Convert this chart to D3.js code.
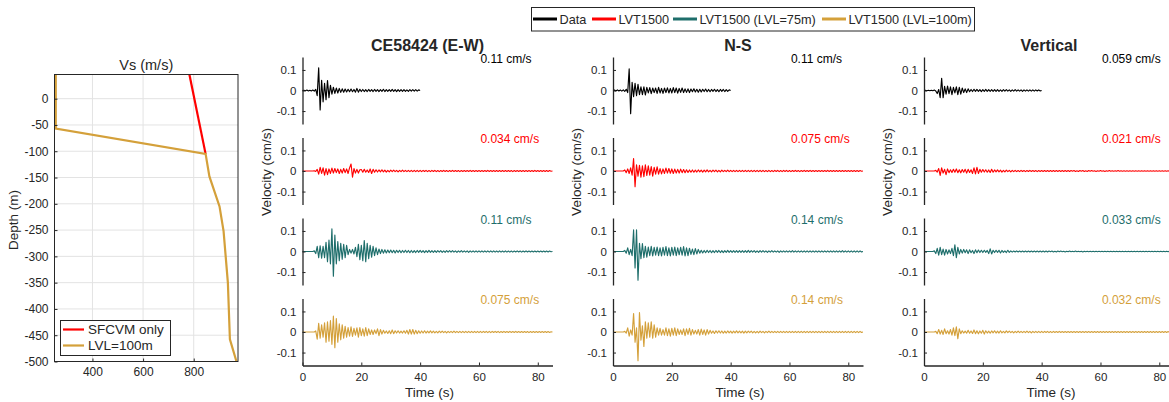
<!DOCTYPE html>
<html><head><meta charset="utf-8">
<script src="https://cdn.jsdelivr.net/npm/d3@7"></script>
<style>
body{margin:0;background:#fff;}
svg{display:block;font-family:"Liberation Sans",Arial,Helvetica,sans-serif;}
</style></head><body>
<svg id="chart" width="1169" height="402"></svg>
<script>
// ---------------- DATA ----------------
// Vs profile (left panel)
const sfcvmVs    = [783, 847];
const sfcvmDepth = [46, -105];
const lvlVs      = [255, 255, 847, 862, 902, 918, 935, 943, 969];
const lvlDepth   = [46, -57, -105, -148, -205, -252, -350, -458, -500];
const vsTicks    = [400, 600, 800];
const depthTicks = [-500,-450,-400,-350,-300,-250,-200,-150,-100,-50,0];

// Velocity time series, sampled every dt seconds, values in 0.001 cm/s
const dt = 0.5;
const timeTicks = [0, 20, 40, 60, 80];
const velTicks  = [-0.1, 0, 0.1];
const components = ["CE58424 (E-W)", "N-S", "Vertical"];
const seriesNames = ["Data", "LVT1500", "LVT1500 (LVL=75m)", "LVT1500 (LVL=100m)"];
const profileNames = ["SFCVM only", "LVL=100m"];
const peakEW = ["0.11 cm/s", "0.034 cm/s", "0.11 cm/s", "0.075 cm/s"];
const peakNS = ["0.11 cm/s", "0.075 cm/s", "0.14 cm/s", "0.14 cm/s"];
const peakV  = ["0.059 cm/s", "0.021 cm/s", "0.033 cm/s", "0.032 cm/s"];

const ewData = [0,1,-1,2,-2,1,-2,2,-3,5,
 -25,110,-95,50,-55,35,-45,48,-35,25,
 -18,16,-14,12,-12,10,-9,8,-8,7,
 -7,6,-6,7,-6,5,-8,10,-8,6,
 -5,5,-5,4,-5,5,-4,4,-5,5,
 -4,4,-5,4,-4,6,-5,4,-4,4,
 -4,5,-4,4,-5,4,-4,4,-4,4,
 -4,3,-4,4,-3,4,-3,4,-3,3,
 0];
const ewLVT = [0,0,0,0,0,0,0,0,1,-2,
 8,-15,18,-12,15,-20,12,-18,10,-12,
 14,-10,12,-8,10,-12,8,-10,12,-8,
 10,-12,15,34,-30,12,-10,8,-10,6,
 7,-6,8,-6,5,-7,10,-12,8,-6,
 6,-5,5,-4,6,-4,4,-5,3,-4,
 4,-3,4,-3,3,-4,3,-3,4,-3,
 3,-3,3,-3,3,-3,3,-3,3,-3,
 3,-3,3,-2,3,-3,2,-3,3,-2,
 3,-3,2,-3,2,-2,3,-2,2,-3,
 2,-2,3,-2,2,-2,2,-3,2,-2,
 2,-2,2,-2,3,-2,2,-2,2,-2,
 2,-2,2,-2,2,-2,3,-2,2,-2,
 2,-2,2,-2,2,-2,2,-2,2,-2,
 2,-2,2,-3,2,-2,2,-2,2,-2,
 2,-2,2,-2,2,-2,2,-2,3,-2,
 2,-2,2,-2,2,-2,2,-2,2,-1,
 0];
const ewLVT75 = [0,0,0,0,0,0,0,0,3,-10,
 25,-30,28,-32,25,-30,45,-50,55,-60,
 110,-120,80,-60,48,-45,40,-38,35,-30,
 30,-15,10,-8,10,-12,20,-25,35,-40,
 30,-45,53,-50,40,-35,30,-28,25,-20,
 18,-15,12,-10,10,-8,8,-7,7,-6,
 7,-6,6,-7,6,-5,6,-6,5,-5,
 6,-5,5,-6,5,-5,4,-5,5,-4,
 5,-4,4,-5,4,-4,5,-4,4,-4,
 4,-4,4,-3,4,-4,3,-4,4,-3,
 4,-3,4,-3,3,-4,3,-3,4,-3,
 3,-3,3,-4,3,-3,3,-3,3,-3,
 3,-3,3,-3,3,-3,3,-3,3,-3,
 3,-3,2,-3,3,-3,2,-3,3,-3,
 2,-3,2,-3,2,-2,3,-2,2,-3,
 2,-2,3,-2,2,-2,2,-2,2,-2,
 2,-2,2,-2,2,-2,2,-2,2,-1,
 0];
const ewLVT100 = [0,0,0,0,0,0,0,0,0,5,
 -35,42,-30,35,-25,45,-50,50,-45,55,
 -60,77,-76,65,-50,40,-38,35,-30,28,
 -25,22,-20,25,-22,18,-15,20,-25,22,
 -18,15,-20,22,-18,15,-12,10,-12,10,
 -8,15,-18,12,-10,8,-6,5,-7,6,
 -8,10,-8,6,-5,6,-5,4,-5,6,
 -6,8,-10,12,-10,12,-10,8,-8,6,
 -6,5,-5,6,-5,4,-4,5,-4,4,
 -4,3,-4,4,-3,4,-3,3,-4,3,
 -3,3,-3,4,-3,3,-3,3,-3,3,
 -3,3,-3,3,-3,3,-3,3,-3,3,
 -3,3,-3,3,-2,3,-3,3,-3,3,
 -2,3,-2,3,-3,2,-2,3,-2,2,
 -2,3,-2,2,-2,3,-2,2,-2,2,
 -2,2,-2,2,-3,2,-2,2,-2,2,
 -2,2,-2,2,-2,2,-2,2,-2,1,
 0];

const nsData = [0,2,-2,3,-2,2,-3,3,-4,6,
 -10,105,-113,40,-30,35,-25,30,-20,18,
 -20,18,-22,15,-12,14,-15,12,-10,12,
 -14,15,-12,10,-14,12,-10,13,-12,10,
 -12,14,-10,12,-13,10,-9,12,-10,8,
 -9,8,-10,7,-6,8,-7,6,-8,6,
 -7,6,-5,7,-6,5,-6,5,-4,6,
 -5,4,-6,5,-4,5,-5,4,-4,3,
 0];
const nsLVT = [0,0,0,0,0,0,0,0,5,-8,
 10,-12,15,-20,60,-76,30,-25,28,-30,
 25,-28,30,-22,25,-20,22,-25,18,-15,
 20,-15,12,-14,10,-12,14,-10,12,-11,
 10,-12,9,-10,8,-10,9,-8,7,-8,
 6,-7,5,-6,5,-6,4,-5,5,-4,
 4,-5,4,-4,5,-4,3,-4,4,-3,
 4,-4,3,-4,4,-3,3,-3,4,-3,
 3,-3,3,-3,3,-3,3,-3,3,-3,
 3,-3,3,-3,3,-3,3,-3,3,-3,
 3,-3,3,-3,2,-3,3,-3,2,-3,
 3,-2,3,-3,2,-3,3,-2,3,-3,
 2,-3,2,-2,3,-2,2,-3,2,-2,
 3,-2,2,-2,3,-2,2,-2,2,-2,
 2,-2,2,-2,2,-2,3,-2,2,-2,
 2,-2,2,-2,2,-2,2,-2,2,-2,
 2,-2,2,-2,2,-2,2,-2,2,-1,
 0];
const nsLVT75 = [0,0,0,0,0,0,0,0,5,-8,
 18,-15,10,-20,105,-80,105,-140,40,-35,
 38,-30,25,-28,22,-20,25,-22,20,-18,
 22,-20,18,-22,20,-18,24,-20,18,-22,
 20,-18,22,-20,18,-16,20,-18,24,-22,
 18,-20,16,-14,12,-15,14,-12,10,-8,
 6,-7,5,-6,6,-5,5,-6,4,-5,
 5,-4,5,-5,4,-5,4,-4,5,-4,
 4,-4,4,-4,4,-4,4,-4,4,-4,
 4,-4,5,-4,4,-3,4,-4,3,-4,
 4,-3,4,-3,3,-4,3,-3,4,-3,
 3,-3,3,-4,3,-3,3,-3,3,-3,
 3,-3,4,-3,3,-3,3,-3,3,-3,
 3,-3,3,-3,3,-3,3,-3,3,-3,
 3,-3,3,-3,3,-3,3,-3,3,-3,
 3,-3,3,-3,3,-3,4,-3,3,-3,
 3,-3,3,-3,3,-3,3,-3,3,-2,
 0];
const nsLVT100 = [0,0,0,0,0,0,0,0,3,-5,
 20,-20,10,-15,90,-50,20,-140,95,-40,
 30,-70,50,-30,45,-25,50,-30,35,-25,
 20,-15,18,-15,12,-15,20,-18,15,-20,
 18,-15,20,-18,15,-12,10,-12,15,-18,
 15,-12,18,-15,12,-10,8,-10,12,-15,
 14,-12,10,-15,12,-10,8,-6,5,-7,
 6,-5,6,-5,5,-6,4,-5,5,-4,
 4,-5,4,-4,5,-4,4,-4,4,-5,
 4,-4,4,-3,4,-4,3,-4,3,-4,
 4,-3,3,-4,3,-3,4,-3,3,-3,
 3,-3,3,-3,3,-3,3,-3,3,-3,
 3,-3,3,-3,3,-3,3,-3,3,-3,
 3,-3,3,-3,3,-3,3,-3,3,-3,
 3,-3,3,-3,3,-3,3,-3,3,-3,
 3,-3,3,-3,3,-3,3,-3,3,-3,
 3,-3,3,-3,3,-3,3,-3,3,-2,
 0];

const vData = [0,1,-1,1,-1,1,-1,2,-2,-15,
 5,-35,59,-35,20,-18,22,-15,18,-20,
 15,-12,18,-20,15,-18,12,-10,8,-10,
 8,-6,5,-5,6,-4,5,-4,4,-5,
 4,-4,5,-4,4,-4,4,-4,4,-4,
 4,-4,3,-4,4,-3,4,-3,3,-4,
 3,-3,4,-3,3,-3,3,-4,3,-3,
 3,-3,3,-3,3,-3,3,-2,3,-2,
 0];
const vLVT = [0,0,0,0,0,0,0,0,3,-5,
 12,-21,15,-10,8,-18,10,-8,6,-7,
 8,-6,10,-8,6,-9,7,-6,8,-10,
 8,-7,6,-12,15,-14,18,-12,8,-6,
 7,-5,6,-6,5,-7,8,-6,5,-4,
 5,-4,4,-5,3,-4,4,-3,3,-4,
 3,-3,3,-3,2,-3,3,-2,2,-3,
 2,-2,3,-2,2,-2,2,-3,2,-2,
 2,-2,2,-2,2,-2,2,-2,2,-2,
 2,-2,2,-2,2,-2,2,-2,2,-2,
 2,-1,2,-2,1,-2,2,-1,2,-2,
 1,-2,2,-1,2,-1,1,-2,1,-1,
 2,-1,1,-2,1,-1,2,-1,1,-1,
 1,-1,2,-1,1,-1,1,-1,1,-1,
 1,-1,1,-1,1,-1,1,-1,1,-1,
 1,-1,1,-1,1,-1,1,-1,1,-1,
 1,-1,1,-1,1,-1,1,-1,1,-1,
 0];
const vLVT75 = [0,0,0,0,0,0,0,3,-10,15,
 -18,20,-15,12,-18,10,-12,8,-10,15,
 -20,33,-30,20,-12,10,-8,10,-6,8,
 -10,8,-6,5,-10,8,-6,7,-5,6,
 -5,6,-4,5,-10,13,-12,6,-5,6,
 -4,6,-7,5,-4,3,-5,6,-4,3,
 -3,2,-2,3,-2,2,-2,2,-2,2,
 -2,2,-2,2,-2,2,-2,2,-2,2,
 -2,2,-2,2,-2,2,-1,2,-2,1,
 -2,2,-1,2,-1,1,-2,1,-1,2,
 -1,1,-1,2,-1,1,-1,1,-2,1,
 -1,1,-1,1,-1,1,-1,1,-1,1,
 -1,1,-1,1,-1,1,-1,1,-1,1,
 -1,1,-1,1,-1,1,-1,1,-1,1,
 -1,1,-1,1,-1,1,-1,1,-1,1,
 -1,1,-1,1,-1,1,-1,1,-1,1,
 -1,1,-1,1,-1,1,-1,1,-1,1,
 0];
const vLVT100 = [0,0,0,0,0,0,0,0,3,-8,
 12,-10,8,-12,15,-8,6,-10,12,-15,
 20,-18,25,-32,15,-8,6,-5,4,-6,
 8,-6,5,-7,10,-8,6,-9,5,-6,
 8,-10,6,-5,4,-6,5,-4,6,-5,
 4,-5,6,-4,3,-4,5,-3,4,-3,
 3,-4,3,-3,4,-3,3,-3,3,-3,
 4,-3,3,-4,3,-3,3,-3,3,-3,
 3,-3,3,-2,3,-3,2,-3,3,-2,
 2,-2,3,-2,2,-2,2,-2,2,-2,
 2,-2,2,-2,2,-2,2,-2,2,-2,
 2,-2,2,-2,2,-2,2,-2,2,-2,
 2,-2,2,-2,2,-2,2,-2,2,-2,
 2,-2,2,-2,2,-2,2,-2,2,-2,
 2,-2,2,-2,2,-2,2,-2,2,-2,
 2,-2,2,-2,2,-2,2,-2,2,-2,
 2,-2,2,-2,2,-2,2,-2,2,-1,
 0];

// ---------------- DRAW ----------------
const svg = d3.select("#chart");
const ink = "#262626";
const colors = ["#000000", "#ff0000", "#1e6e6b", "#d4a03a"];
const fmt = d => String(d);

// ---- Left: Vs profile ----
const L = {x0: 54.5, x1: 238, y0: 74.5, y1: 361.5};
const vx = d3.scaleLinear().domain([250, 975]).range([L.x0, L.x1]);
const vy = d3.scaleLinear().domain([-500, 46]).range([L.y1, L.y0]);
const gl = svg.append("g");
gl.append("g").selectAll("line").data(vsTicks).join("line")
  .attr("x1", d => vx(d)).attr("x2", d => vx(d)).attr("y1", L.y0).attr("y2", L.y1)
  .attr("stroke", "#e3e3e3").attr("stroke-width", 1);
gl.append("g").selectAll("line").data(depthTicks).join("line")
  .attr("x1", L.x0).attr("x2", L.x1).attr("y1", d => vy(d)).attr("y2", d => vy(d))
  .attr("stroke", "#e3e3e3").attr("stroke-width", 1);

const lineV = d3.line().x(d => vx(d[0])).y(d => vy(d[1]));
gl.append("path").datum(d3.zip(sfcvmVs, sfcvmDepth)).attr("d", lineV)
  .attr("fill", "none").attr("stroke", colors[1]).attr("stroke-width", 2.2);
gl.append("path").datum(d3.zip(lvlVs, lvlDepth)).attr("d", lineV)
  .attr("fill", "none").attr("stroke", colors[3]).attr("stroke-width", 2.2);

const ayL = gl.append("g").attr("transform", `translate(${L.x0},0)`)
  .call(d3.axisLeft(vy).tickValues(depthTicks).tickFormat(fmt).tickSizeInner(-3).tickSizeOuter(0).tickPadding(6));
const axL = gl.append("g").attr("transform", `translate(0,${L.y1})`)
  .call(d3.axisBottom(vx).tickValues(vsTicks).tickFormat(fmt).tickSizeInner(-3).tickSizeOuter(0).tickPadding(6));
[ayL, axL].forEach(g => {
  g.selectAll("text").attr("font-size", 12).attr("fill", ink).attr("font-family", "Liberation Sans, Arial, sans-serif");
  g.selectAll("line,path").attr("stroke", ink);
  g.select(".domain").remove();
});
gl.append("rect").attr("x", L.x0).attr("y", L.y0).attr("width", L.x1 - L.x0).attr("height", L.y1 - L.y0)
  .attr("fill", "none").attr("stroke", ink).attr("stroke-width", 1);
gl.append("text").attr("x", (L.x0 + L.x1) / 2).attr("y", 70).attr("text-anchor", "middle")
  .attr("font-size", 14.5).attr("fill", ink).text("Vs (m/s)");
gl.append("text").attr("transform", "translate(18,220) rotate(-90)").attr("text-anchor", "middle")
  .attr("font-size", 13.5).attr("fill", ink).text("Depth (m)");
// legend in left panel
const lg = gl.append("g");
lg.append("rect").attr("x", 60.5).attr("y", 320.5).attr("width", 110).attr("height", 35)
  .attr("fill", "#fff").attr("stroke", ink).attr("stroke-width", 1);
profileNames.forEach((n, i) => {
  const yy = 329.5 + i * 16;
  lg.append("line").attr("x1", 63).attr("x2", 84).attr("y1", yy).attr("y2", yy)
    .attr("stroke", i === 0 ? colors[1] : colors[3]).attr("stroke-width", 2.2);
  lg.append("text").attr("x", 88).attr("y", yy + 4.8).attr("font-size", 13.5).attr("fill", ink).text(n);
});

// ---- Waveform panels ----
const colX = [302.5, 613, 924];
const panelW = 250;
const rowTop = [57, 137.5, 218, 298.5];
const rowH = 67;
const traces = [[ewData, ewLVT, ewLVT75, ewLVT100], [nsData, nsLVT, nsLVT75, nsLVT100], [vData, vLVT, vLVT75, vLVT100]];
const peaks = [peakEW, peakNS, peakV];

components.forEach((comp, c) => {
  const x = d3.scaleLinear().domain([0, 85]).range([colX[c], colX[c] + panelW]);
  const g = svg.append("g");
  g.append("text").attr("x", colX[c] + panelW / 2).attr("y", 51).attr("text-anchor", "middle")
    .attr("font-size", 16).attr("font-weight", "bold").attr("fill", ink).text(comp);
  traces[c].forEach((vals, r) => {
    const y = d3.scaleLinear().domain([-0.163, 0.163]).range([rowTop[r] + rowH, rowTop[r]]);
    const line = d3.line().x((d, i) => x(i * dt)).y(d => y(d / 1000));
    g.append("path").datum(vals).attr("d", line).attr("fill", "none")
      .attr("stroke", colors[r]).attr("stroke-width", 1.15).attr("stroke-linejoin", "round");
    const ay = g.append("g").attr("transform", `translate(${colX[c]},0)`)
      .call(d3.axisLeft(y).tickValues(velTicks).tickFormat(fmt).tickSizeInner(-3).tickSizeOuter(0).tickPadding(6));
    ay.selectAll("text").attr("font-size", 11.5).attr("fill", ink).attr("font-family", "Liberation Sans, Arial, sans-serif");
    ay.selectAll("line,path").attr("stroke", ink);
    ay.select(".domain").attr("stroke-width", 1.3);
    g.append("text").attr("x", x(60.5)).attr("y", rowTop[r] + 5.5).attr("font-size", 12)
      .attr("fill", colors[r]).text(peaks[c][r]);
    if (r === 3) {
      const ax = g.append("g").attr("transform", `translate(0,${rowTop[r] + rowH})`)
        .call(d3.axisBottom(x).tickValues(timeTicks).tickFormat(fmt).tickSizeInner(-3).tickSizeOuter(0).tickPadding(7));
      ax.selectAll("text").attr("font-size", 11.5).attr("fill", ink).attr("font-family", "Liberation Sans, Arial, sans-serif");
      ax.selectAll("line,path").attr("stroke", ink);
      ax.select(".domain").attr("stroke-width", 1.3);
      g.append("text").attr("x", colX[c] + panelW / 2 + 2).attr("y", 397).attr("text-anchor", "middle")
        .attr("font-size", 13.5).attr("fill", ink).text("Time (s)");
    }
  });
  g.append("text").attr("transform", `translate(${colX[c] - 32},172) rotate(-90)`).attr("text-anchor", "middle")
    .attr("font-size", 13.5).attr("fill", ink).text("Velocity (cm/s)");
});

// ---- Top legend ----
const tl = svg.append("g");
tl.append("rect").attr("x", 531.5).attr("y", 7.5).attr("width", 443).attr("height", 23.5)
  .attr("fill", "#fff").attr("stroke", ink).attr("stroke-width", 1);
const legX = [533, 592, 673, 822];
seriesNames.forEach((n, i) => {
  tl.append("line").attr("x1", legX[i]).attr("x2", legX[i] + 24).attr("y1", 19).attr("y2", 19)
    .attr("stroke", colors[i]).attr("stroke-width", 3);
  tl.append("text").attr("x", legX[i] + 26.5).attr("y", 23.8).attr("font-size", 12.7).attr("fill", ink).text(n);
});
</script>
</body></html>
